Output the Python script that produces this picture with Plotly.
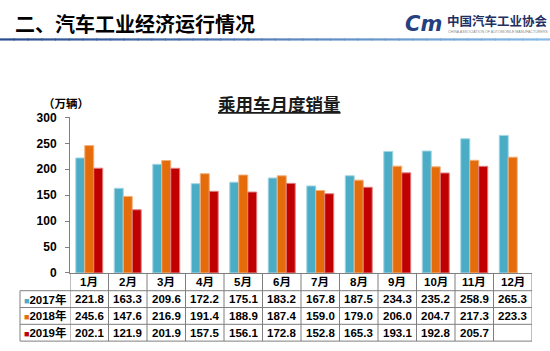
import plotly.graph_objects as go

W, H = 550, 351

months = ["1月", "2月", "3月", "4月", "5月", "6月", "7月", "8月", "9月", "10月", "11月", "12月"]
series_names = ["2017年", "2018年", "2019年"]
sales_2017 = [221.8, 163.3, 209.6, 172.2, 175.1, 183.2, 167.8, 187.5, 234.3, 235.2, 258.9, 265.3]
sales_2018 = [245.6, 147.6, 216.9, 191.4, 188.9, 187.4, 159.0, 179.0, 206.0, 204.7, 217.3, 223.3]
sales_2019 = [202.1, 121.9, 201.9, 157.5, 156.1, 172.8, 152.8, 165.3, 193.1, 192.8, 205.7]
y_ticks = [0, 50, 100, 150, 200, 250, 300]

colors = ["#4BACC6", "#E46C0A", "#C00000"]
edge_colors = ["#A5D5E3", "#F2B07E", "#E08080"]

FONT_LAT = "Arial, 'Liberation Sans', 'Noto Sans CJK SC', sans-serif"
FONT_CJK = "'Noto Sans CJK SC', 'Noto Sans CJK JP', sans-serif"


def py(px):
    return 1 - px / H


def pxx(px):
    return px / W


# geometry (pixels)
PLOT_L, PLOT_R = 70, 532
PLOT_T, PLOT_B = 115, 277
TABLE_L = 20
ROW_LINES = [295.5, 313.0, 330.5, 348.0]

fig = go.Figure()
all_series = [sales_2017, sales_2018, sales_2019]
for name, vals, c, ec in zip(series_names, all_series, colors, edge_colors):
    fig.add_trace(go.Bar(
        x=months[:len(vals)], y=vals, name=name,
        marker=dict(color=c, line=dict(color=ec, width=1)),
        hoverinfo="x+y+name",
    ))

shapes = []
annotations = []

# header blue gradient line
nseg = 40
c0 = (0x2B, 0x4C, 0x8E)
c1 = (0x86, 0xBA, 0xEA)
for i in range(nseg):
    t = i / (nseg - 1)
    col = "rgb(%d,%d,%d)" % tuple(int(a + (b - a) * t) for a, b in zip(c0, c1))
    shapes.append(dict(type="line", xref="paper", yref="paper",
                       x0=i / nseg, x1=(i + 1) / nseg + 0.002,
                       y0=py(33.8), y1=py(33.8),
                       line=dict(color=col, width=2.2), layer="above"))

# table lines
LINE_C = "#7F7F7F"
for k in range(len(months) + 1):
    xb = k - 0.5
    shapes.append(dict(type="line", xref="x", yref="paper",
                       x0=xb, x1=xb, y0=py(PLOT_B), y1=py(ROW_LINES[-1]),
                       line=dict(color=LINE_C, width=1)))
shapes.append(dict(type="line", xref="paper", yref="paper",
                   x0=pxx(TABLE_L), x1=pxx(TABLE_L),
                   y0=py(ROW_LINES[0]), y1=py(ROW_LINES[-1]),
                   line=dict(color=LINE_C, width=1)))
for yl in ROW_LINES:
    shapes.append(dict(type="line", xref="paper", yref="paper",
                       x0=pxx(TABLE_L), x1=pxx(PLOT_R),
                       y0=py(yl), y1=py(yl),
                       line=dict(color=LINE_C, width=1)))

# table header (months)
hdr_y = py((PLOT_B + ROW_LINES[0]) / 2)
for m in months:
    annotations.append(dict(x=m, y=hdr_y, xref="x", yref="paper",
                            text="<b>%s</b>" % m, showarrow=False,
                            font=dict(family=FONT_LAT, size=11.5, color="#000000"),
                            xanchor="center", yanchor="middle"))

# table rows
for r, (name, vals, c) in enumerate(zip(series_names, all_series, colors)):
    yc = py((ROW_LINES[r] + ROW_LINES[r + 1]) / 2)
    annotations.append(dict(x=pxx(TABLE_L + 2), y=yc, xref="paper", yref="paper",
                            text="<span style='color:%s;font-size:9px'>■</span><b>%s</b>" % (c, name),
                            showarrow=False, xanchor="left", yanchor="middle",
                            font=dict(family=FONT_LAT, size=11.5, color="#000000")))
    for m, v in zip(months, vals):
        annotations.append(dict(x=m, y=yc, xref="x", yref="paper",
                                text="<b>%.1f</b>" % v, showarrow=False,
                                xanchor="center", yanchor="middle",
                                font=dict(family=FONT_LAT, size=11.5, color="#000000")))

# page header
annotations.append(dict(x=pxx(13), y=py(17.5), xref="paper", yref="paper",
                        text="<b>二、汽车工业经济运行情况</b>", showarrow=False,
                        xanchor="left", yanchor="middle",
                        font=dict(family=FONT_CJK, size=20, color="#000000")))
# logo
annotations.append(dict(x=pxx(403), y=py(18), xref="paper", yref="paper",
                        text="<b><i>Cm</i></b>", showarrow=False,
                        xanchor="left", yanchor="middle",
                        font=dict(family="'DejaVu Sans', sans-serif", size=21, color="#24407F")))
annotations.append(dict(x=pxx(445), y=py(14), xref="paper", yref="paper",
                        text="<b>中国汽车工业协会</b>", showarrow=False,
                        xanchor="left", yanchor="middle",
                        font=dict(family=FONT_CJK, size=12.5, color="#1F2F5F")))
annotations.append(dict(x=pxx(446), y=py(26.5), xref="paper", yref="paper",
                        text="CHINA ASSOCIATION OF AUTOMOBILE MANUFACTURERS", showarrow=False,
                        xanchor="left", yanchor="middle",
                        font=dict(family=FONT_LAT, size=3.6, color="#8A8A8A")))

# chart title and unit
annotations.append(dict(x=pxx(279), y=py(101), xref="paper", yref="paper",
                        text="<b><u>乘用车月度销量</u></b>", showarrow=False,
                        xanchor="center", yanchor="middle",
                        font=dict(family=FONT_CJK, size=17.5, color="#1A1A1A")))
annotations.append(dict(x=pxx(66), y=py(100), xref="paper", yref="paper",
                        text="<b>（万辆）</b>", showarrow=False,
                        xanchor="center", yanchor="middle",
                        font=dict(family=FONT_CJK, size=11.5, color="#000000")))

fig.update_layout(
    width=W, height=H,
    margin=dict(l=0, r=0, t=0, b=0),
    paper_bgcolor="#FFFFFF", plot_bgcolor="#FFFFFF",
    barmode="group", bargap=0.3, bargroupgap=0.0,
    showlegend=False,
    shapes=shapes, annotations=annotations,
    xaxis=dict(domain=[pxx(PLOT_L), pxx(PLOT_R)], type="category",
               categoryorder="array", categoryarray=months,
               range=[-0.5, 11.5], showticklabels=False, ticks="",
               showline=True, linecolor=LINE_C, linewidth=1,
               showgrid=False, zeroline=False, fixedrange=True),
    yaxis=dict(domain=[py(PLOT_B), py(PLOT_T)], range=[0, 300],
               tickmode="array", tickvals=y_ticks,
               ticks="outside", ticklen=4, tickcolor=LINE_C, tickwidth=1,
               showline=True, linecolor=LINE_C, linewidth=1,
               showgrid=False, zeroline=False,
               tickfont=dict(family=FONT_LAT, size=12, color="#000000", weight="bold"),
               ticklabelstandoff=6, fixedrange=True),
)

fig.write_html("out.html")
